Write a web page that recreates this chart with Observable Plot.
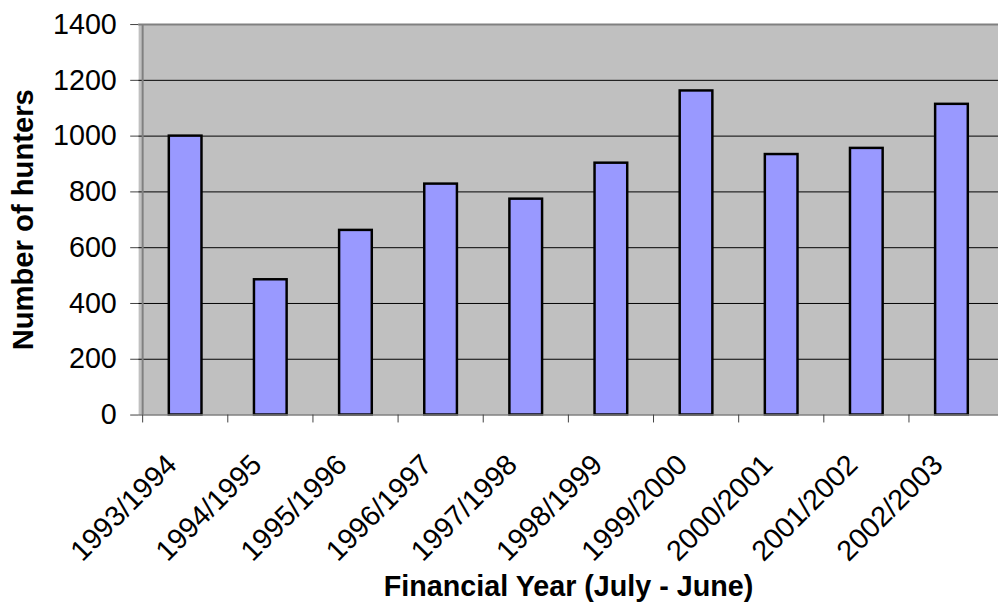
<!DOCTYPE html>
<html><head><meta charset="utf-8">
<script src="https://cdn.jsdelivr.net/npm/d3@7"></script>
<script src="https://cdn.jsdelivr.net/npm/@observablehq/plot@0.6"></script>
<style>
html,body{margin:0;padding:0;overflow:hidden;background:#fff;}
</style></head><body><div id="chart"></div>
<script>
const years = ["1993/1994","1994/1995","1995/1996","1996/1997","1997/1998","1998/1999","1999/2000","2000/2001","2001/2002","2002/2003"];
const hunters = [1000, 485, 662, 828, 774, 903, 1162, 934, 956, 1114];
const yTicks = [0, 200, 400, 600, 800, 1000, 1200, 1400];
const gridTicks = [200, 400, 600, 800, 1000, 1200];
const xTitle = "Financial Year (July - June)";
const yTitle = "Number of hunters";

const data = years.map((year, i) => ({year, hunters: hunters[i]}));
const font = "Arial, 'Liberation Sans', sans-serif";
const W = 1008, ML = 139.5;
const halfBand = (W - ML) / years.length / 2;

const chart = Plot.plot({
  width: W, height: 614,
  marginLeft: ML, marginRight: 0, marginTop: 24.3, marginBottom: 195.3,
  style: {fontFamily: font, fontSize: "29px", background: "white", color: "black", overflow: "visible"},
  x: {type: "band", domain: years, padding: 0, axis: null},
  y: {domain: [0, 1400], axis: null},
  marks: [
    Plot.frame({fill: "#c0c0c0", stroke: null}),
    Plot.ruleY(gridTicks, {stroke: "black", strokeWidth: 1}),
    Plot.ruleY([1400], {stroke: "#808080", strokeWidth: 2}),
    Plot.barY(data, {x: "year", y: "hunters", fill: "#9999ff", stroke: "black", strokeWidth: 2.5, insetLeft: 26.5, insetRight: 26.5}),
    Plot.ruleY([0], {stroke: "#808080", strokeWidth: 1.5}),
    Plot.ruleX([years[0]], {x: d => d, dx: -halfBand, stroke: "#808080", strokeWidth: 2}),
    Plot.axisY(yTicks, {tickSize: 8, tickPadding: 14, fontSize: 29, tickFormat: d => String(d), stroke: "#404040", label: null}),
    Plot.axisX({tickSize: 8, tickFormat: () => "", dx: -halfBand, stroke: "#404040", label: null}),
    Plot.text(years, {x: d => d, text: d => d, frameAnchor: "bottom", rotate: -45, textAnchor: "end", lineAnchor: "bottom", dx: -7.5, dy: 52, fontSize: 29, fill: "black"}),
    Plot.text([yTitle], {text: d => d, frameAnchor: "left", rotate: -90, textAnchor: "middle", lineAnchor: "bottom", dx: -106.5, fontSize: 29.5, fontWeight: "bold", fill: "black"}),
    Plot.text([xTitle], {text: d => d, frameAnchor: "bottom", textAnchor: "middle", lineAnchor: "bottom", dy: 183, fontSize: 29, fontWeight: "bold", fill: "black"})
  ]
});
document.getElementById("chart").append(chart);
</script>
</body></html>
